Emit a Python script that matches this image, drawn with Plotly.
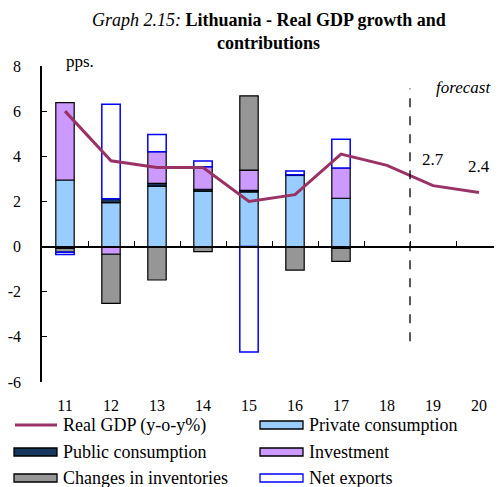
import plotly.graph_objects as go

years = ["11", "12", "13", "14", "15", "16", "17", "18", "19", "20"]
real_gdp = [6.0, 3.8, 3.5, 3.5, 2.0, 2.3, 4.1, 3.6, 2.7, 2.4]
private_cons = [2.95, 1.95, 2.68, 2.46, 2.42, 3.15, 2.14, None, None, None]
public_cons = [-0.08, 0.17, 0.12, 0.08, 0.07, 0.03, -0.08, None, None, None]
investment = [3.43, -0.34, 1.40, 1.00, 0.90, None, 1.34, None, None, None]
inventories = [-0.17, -2.18, -1.48, -0.22, 3.29, -1.04, -0.58, None, None, None]
net_exports = [-0.10, 4.18, 0.76, 0.25, -4.67, 0.17, 1.27, None, None, None]
value_labels = {"19": "2.7", "20": "2.4"}
y_tick_vals = [-6, -4, -2, 0, 2, 4, 6, 8]
y_tick_text = ["-6", "-4", "-2", "0", "2", "4", "6", "8"]

FONT = "Liberation Serif, Times New Roman, serif"
OFF = 8  # page body margin
W, H = 502 - OFF, 487 - OFF
L, R, T = 42 - OFF, 0, 66 - OFF
B = H - (382 - OFF)
PW, PH = W - L - R, H - T - B


def px(x):
    return (x - OFF - L) / PW


def py(y):
    return (H - B - (y - OFF)) / PH


fig = go.Figure()
fig.add_trace(go.Scatter(x=years, y=real_gdp, mode="lines", name="Real GDP (y-o-y%)",
                         line=dict(color="#993366", width=3)))
bar_specs = [
    ("Private consumption", private_cons, "#99CCFF", "black", 1.2),
    ("Public consumption", public_cons, "#17375E", "black", 1.2),
    ("Investment", investment, "#CC99FF", "black", 1.2),
    ("Changes in inventories", inventories, "#969696", "black", 1.2),
    ("Net exports", net_exports, "white", "#0000FF", 1.5),
]
for name, vals, fill, edge, w in bar_specs:
    fig.add_trace(go.Bar(x=years, y=vals, name=name, width=0.4,
                         marker=dict(color=fill, line=dict(color=edge, width=w))))
fig.add_trace(go.Scatter(x=years, y=[None] * len(years), xaxis="x2", showlegend=False, hoverinfo="skip"))

for yr, txt in value_labels.items():
    i = years.index(yr)
    fig.add_annotation(x=i, y=real_gdp[i], text=txt, showarrow=False, yshift=26,
                       font=dict(family=FONT, size=17, color="black"))

fig.add_shape(type="line", xref="x", yref="y", x0=7.5, x1=7.5, y0=-4.2, y1=7,
              line=dict(color="black", width=1.3, dash="dash"))
fig.add_annotation(xref="paper", yref="paper", x=px(463), y=py(87), text="<i>forecast</i>",
                   showarrow=False, xanchor="center", yanchor="middle",
                   font=dict(family=FONT, size=17, color="black"))
fig.add_annotation(xref="paper", yref="paper", x=px(64), y=py(62), text="pps.", showarrow=False,
                   xanchor="left", yanchor="middle", font=dict(family=FONT, size=17, color="black"))

# title (two lines, placed as in the source)
fig.add_annotation(xref="paper", yref="paper", x=px(269), y=py(20),
                   text="<i>Graph 2.15:</i> <b>Lithuania - Real GDP growth and</b>",
                   showarrow=False, xanchor="center", yanchor="middle",
                   font=dict(family=FONT, size=18, color="black"))
fig.add_annotation(xref="paper", yref="paper", x=px(268), y=py(43),
                   text="<b>contributions</b>",
                   showarrow=False, xanchor="center", yanchor="middle",
                   font=dict(family=FONT, size=18, color="black"))

# legend (drawn manually to match the long key swatches)
legend_items = [
    ("Real GDP (y-o-y%)", "line", "#993366", "#993366", 14, 425),
    ("Private consumption", "rect", "#99CCFF", "black", 260, 425),
    ("Public consumption", "rect", "#17375E", "black", 14, 452),
    ("Investment", "rect", "#CC99FF", "black", 260, 452),
    ("Changes in inventories", "rect", "#969696", "black", 14, 478),
    ("Net exports", "rect", "white", "#0000FF", 260, 478),
]
for text, kind, fill, edge, x0, yc in legend_items:
    if kind == "line":
        fig.add_shape(type="line", xref="paper", yref="paper", x0=px(x0 + 1), x1=px(x0 + 43),
                      y0=py(yc), y1=py(yc), line=dict(color=fill, width=3))
    else:
        fig.add_shape(type="rect", xref="paper", yref="paper", x0=px(x0), x1=px(x0 + 43),
                      y0=py(yc - 4), y1=py(yc + 4), fillcolor=fill,
                      line=dict(color=edge, width=1.3))
    fig.add_annotation(xref="paper", yref="paper", x=px(x0 + 47), y=py(yc), text=text,
                       showarrow=False, xanchor="left", yanchor="middle",
                       font=dict(family=FONT, size=18, color="black"))

fig.update_layout(
    width=W, height=H,
    margin=dict(l=L, r=R, t=T, b=B, autoexpand=False),
    barmode="relative",
    plot_bgcolor="white", paper_bgcolor="white",
    font=dict(family=FONT, size=16, color="black"),
    showlegend=False,
    xaxis=dict(type="category", categoryorder="array", categoryarray=years,
               range=[-0.5, 9.5], showline=False, showgrid=False, ticks="",
               ticklabelstandoff=12, tickfont=dict(family=FONT, size=16)),
    xaxis2=dict(type="category", categoryorder="array", categoryarray=years, overlaying="x",
                range=[-0.5, 9.5], anchor="free", position=6 / 14, showline=True,
                linecolor="black", linewidth=1.5, ticks="inside", ticklen=5, tickcolor="black",
                tickwidth=1.2, tickson="boundaries", showticklabels=False, showgrid=False,
                matches="x"),
    yaxis=dict(range=[-6, 8], tickmode="array", tickvals=y_tick_vals, ticktext=y_tick_text,
               showline=True, linecolor="black", linewidth=1.5,
               ticks="inside", ticklen=5, tickcolor="black", tickwidth=1.2,
               showgrid=False, zeroline=False, ticklabelstandoff=16,
               tickfont=dict(family=FONT, size=16)),
)

fig.write_html("out.html")
